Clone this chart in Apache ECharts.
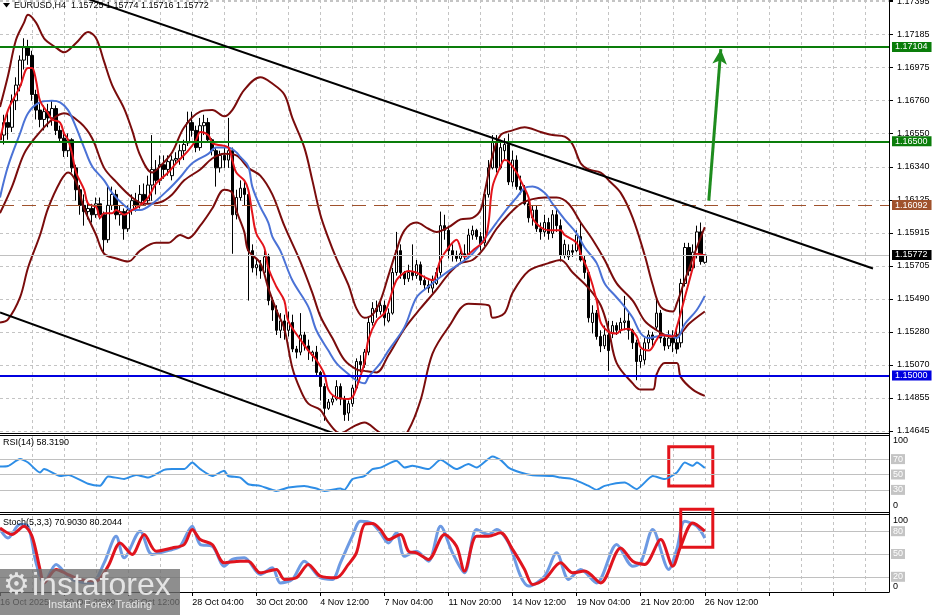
<!DOCTYPE html>
<html><head><meta charset="utf-8">
<script src="https://cdn.jsdelivr.net/npm/echarts@6.0.0/dist/echarts.min.js"></script>
<style>html,body{margin:0;padding:0;background:#fff}#c{width:937px;height:615px}</style>
</head><body><div id="c"></div>
<script>
// ---------- data ----------
const timeLabels = ['16 Oct 2025','20 Oct 20:00','23 Oct 12:00','28 Oct 04:00','30 Oct 20:00','4 Nov 12:00','7 Nov 04:00','11 Nov 20:00','14 Nov 12:00','19 Nov 04:00','21 Nov 20:00','26 Nov 12:00'];
const priceTicks = ['1.14645','1.14855','1.15070','1.15280','1.15490','1.15705','1.15915','1.16125','1.16340','1.16550','1.16760','1.16975','1.17185','1.17395'];

const opens = [
1.1651,1.1654,1.1662,1.1659,1.1676,1.1686,1.1702,1.1710,1.1705,1.1680,
1.1670,1.1664,1.1669,1.1665,1.1671,1.1657,1.1652,1.1644,1.1651,1.1633,
1.1619,1.1609,1.1605,1.1607,1.1603,1.1610,1.1603,1.1587,1.1609,1.1616,
1.1603,1.1605,1.1594,1.1606,1.1612,1.1609,1.1616,1.1612,1.1622,1.1632,
1.1625,1.1635,1.1632,1.1628,1.1638,1.1639,1.1644,1.1649,1.1662,1.1657,
1.1646,1.1660,1.1662,1.1651,1.1644,1.1633,1.1641,1.1638,1.1644,1.1603,
1.1614,1.1620,1.1616,1.1580,1.1569,1.1571,1.1566,1.1576,1.1548,1.1542,
1.1529,1.1535,1.1529,1.1534,1.1517,1.1515,1.1526,1.1519,1.1513,1.1515,
1.1502,1.1493,1.1479,1.1483,1.1485,1.1493,1.1485,1.1476,1.1482,1.1492,
1.1509,1.1507,1.1515,1.1534,1.1543,1.1541,1.1545,1.1535,1.1540,1.1566,
1.1580,1.1566,1.1562,1.1566,1.1564,1.1571,1.1561,1.1558,1.1556,1.1559,
1.1566,1.1596,1.1593,1.1580,1.1577,1.1575,1.1578,1.1577,1.1590,1.1593,
1.1589,1.1585,1.1616,1.1633,1.1650,1.1633,1.1644,1.1648,1.1624,1.1638,
1.1621,1.1619,1.1610,1.1601,1.1606,1.1594,1.1592,1.1598,1.1591,1.1603,
1.1596,1.1577,1.1576,1.1580,1.1580,1.1589,1.1574,1.1566,1.1534,1.1540,
1.1525,1.1519,1.1526,1.1527,1.1532,1.1529,1.1534,1.1535,1.1529,1.1521,
1.1509,1.1510,1.1521,1.1526,1.1531,1.1540,1.1524,1.1519,1.1524,1.1521,
1.1521,1.1559,1.1582,1.1569,1.1577,1.1592,1.15725];
const closes = [
1.1654,1.1662,1.1659,1.1676,1.1686,1.1702,1.1710,1.1705,1.1680,1.1670,
1.1664,1.1669,1.1665,1.1671,1.1657,1.1652,1.1644,1.1651,1.1633,1.1619,
1.1609,1.1605,1.1607,1.1603,1.1610,1.1603,1.1587,1.1609,1.1616,1.1603,
1.1605,1.1594,1.1606,1.1612,1.1609,1.1616,1.1612,1.1622,1.1632,1.1625,
1.1635,1.1632,1.1637,1.1638,1.1639,1.1644,1.1648,1.1662,1.1657,1.1646,
1.1660,1.1662,1.1651,1.1644,1.1633,1.1641,1.1638,1.1644,1.1603,1.1614,
1.1620,1.1616,1.1580,1.1569,1.1571,1.1567,1.1576,1.1548,1.1542,1.1529,
1.1535,1.1529,1.1534,1.1517,1.1515,1.1526,1.1519,1.1516,1.1515,1.1502,
1.1493,1.1479,1.1483,1.1485,1.1493,1.1485,1.1475,1.1482,1.1492,1.1509,
1.1507,1.1515,1.1534,1.1543,1.1541,1.1545,1.1537,1.1540,1.1566,1.1580,
1.1566,1.1562,1.1566,1.1564,1.1571,1.1561,1.1558,1.1556,1.1561,1.1566,
1.1596,1.1593,1.1580,1.1577,1.1575,1.1578,1.1577,1.1590,1.1593,1.1589,
1.1584,1.1616,1.1633,1.1650,1.1633,1.1646,1.1648,1.1624,1.1638,1.1621,
1.1619,1.1610,1.1601,1.1606,1.1594,1.1592,1.1598,1.1591,1.1603,1.1596,
1.1577,1.1584,1.1580,1.1579,1.1590,1.1574,1.1566,1.1537,1.1540,1.1525,
1.1519,1.1526,1.1516,1.1532,1.1529,1.1534,1.1535,1.1529,1.1521,1.1509,
1.1513,1.1521,1.1526,1.1523,1.1540,1.1524,1.1519,1.1524,1.1521,1.1517,
1.1559,1.1582,1.1567,1.1579,1.1592,1.1573,1.15772];
const highs = [
1.1660,1.1667,1.1669,1.1680,1.1691,1.1705,1.1716,1.1715,1.1708,1.1683,
1.1675,1.1673,1.1674,1.1676,1.1673,1.1660,1.1656,1.1655,1.1652,1.1635,
1.1622,1.1616,1.1612,1.1610,1.1614,1.1614,1.1605,1.1621,1.1621,1.1619,
1.1609,1.1607,1.1609,1.1616,1.1617,1.1622,1.1623,1.1628,1.1654,1.1638,
1.1641,1.1641,1.1641,1.1641,1.1643,1.1648,1.1651,1.1669,1.1669,1.1660,
1.1665,1.1667,1.1665,1.1652,1.1646,1.1644,1.1646,1.1665,1.1646,1.1619,
1.1625,1.1624,1.1619,1.1584,1.1575,1.1574,1.1580,1.1578,1.1550,1.1545,
1.1540,1.1539,1.1541,1.1539,1.1519,1.1540,1.1528,1.1523,1.1516,1.1519,
1.1503,1.1495,1.1485,1.1488,1.1497,1.1495,1.1487,1.1484,1.1494,1.1511,
1.1513,1.1517,1.1537,1.1547,1.1548,1.1548,1.1548,1.1543,1.1569,1.1592,
1.1584,1.1567,1.1571,1.1584,1.1574,1.1573,1.1564,1.1561,1.1564,1.1569,
1.1605,1.1603,1.1596,1.1584,1.1580,1.1582,1.1584,1.1594,1.1596,1.1594,
1.1592,1.1619,1.1638,1.1654,1.1654,1.1651,1.1652,1.1655,1.1644,1.1641,
1.1628,1.1622,1.1612,1.1609,1.1609,1.1598,1.1603,1.1601,1.1606,1.1606,
1.1600,1.1587,1.1584,1.1584,1.1593,1.1598,1.1577,1.1567,1.1545,1.1542,
1.1529,1.1532,1.1535,1.1535,1.1534,1.1537,1.1551,1.1541,1.1530,1.1523,
1.1517,1.1524,1.1529,1.1528,1.1550,1.1542,1.1526,1.1529,1.1529,1.1529,
1.1562,1.1585,1.1585,1.1584,1.1596,1.1598,1.15774];
const lows = [
1.1644,1.1648,1.1651,1.1656,1.1670,1.1682,1.1696,1.1699,1.1676,1.1664,
1.1659,1.1657,1.1659,1.1660,1.1654,1.1650,1.1640,1.1640,1.1630,1.1612,
1.1603,1.1596,1.1600,1.1598,1.1601,1.1600,1.1578,1.1585,1.1606,1.1600,
1.1596,1.1587,1.1592,1.1603,1.1605,1.1607,1.1609,1.1610,1.1612,1.1616,
1.1622,1.1626,1.1628,1.1625,1.1635,1.1635,1.1638,1.1647,1.1653,1.1643,
1.1644,1.1654,1.1650,1.1641,1.1621,1.1630,1.1633,1.1633,1.1578,1.1600,
1.1612,1.1609,1.1548,1.1566,1.1564,1.1562,1.1564,1.1545,1.1535,1.1526,
1.1524,1.1523,1.1525,1.1515,1.1511,1.1513,1.1516,1.1510,1.1509,1.1500,
1.1484,1.1471,1.1478,1.1481,1.1484,1.1481,1.1471,1.1471,1.1480,1.1491,
1.1502,1.1505,1.1513,1.1532,1.1537,1.1539,1.1532,1.1534,1.1539,1.1564,
1.1562,1.1558,1.1560,1.1561,1.1562,1.1558,1.1555,1.1553,1.1553,1.1558,
1.1564,1.1587,1.1575,1.1573,1.1573,1.1573,1.1573,1.1575,1.1587,1.1587,
1.1580,1.1583,1.1614,1.1632,1.1630,1.1632,1.1638,1.1622,1.1621,1.1619,
1.1616,1.1609,1.1598,1.1596,1.1592,1.1587,1.1589,1.1587,1.1588,1.1592,
1.1573,1.1575,1.1574,1.1576,1.1579,1.1573,1.1562,1.1534,1.1527,1.1523,
1.1515,1.1517,1.1503,1.1524,1.1526,1.1527,1.1529,1.1523,1.1517,1.1497,
1.1505,1.1507,1.1517,1.1519,1.1529,1.1521,1.1516,1.1517,1.1515,1.1514,
1.1518,1.1557,1.1564,1.1567,1.1575,1.1571,1.15716];

const bbUpper = [[0,1.1672],[2,1.1692],[4,1.1715],[6,1.1726],[7,1.1731],[9,1.1726],[11,1.1716],[14,1.1710],[16,1.1707],[19,1.1713],[22,1.1720],[24,1.1716],[26,1.1701],[28,1.1686],[31,1.1671],[33,1.1657],[35,1.1641],[38,1.1630],[40,1.1634],[43,1.1643],[46,1.1659],[50,1.1669],[53,1.1670],[56,1.1666],[58,1.1670],[61,1.1683],[65,1.1691],[68,1.1687],[71,1.1680],[73,1.1665],[76,1.1646],[78,1.1625],[80,1.1603],[82,1.1588],[84,1.1575],[87,1.1558],[89,1.1543],[91,1.1537],[93,1.1539],[95,1.1548],[97,1.1564],[99,1.1580],[101,1.1593],[104,1.1598],[107,1.1594],[109,1.1592],[112,1.1595],[115,1.1600],[118,1.1601],[120,1.1606],[121,1.1617],[123,1.1641],[125,1.1654],[128,1.1657],[131,1.1659],[135,1.1656],[138,1.1654],[141,1.1653],[143,1.1648],[145,1.1636],[147,1.1632],[150,1.1630],[152,1.1625],[155,1.1617],[158,1.1601],[161,1.1577],[163,1.1558],[165,1.1544],[168,1.1541],[169,1.1546],[171,1.1561],[174,1.1582],[176,1.1595]];
const bbMiddle = [[0,1.1604],[3,1.1621],[6,1.1642],[9,1.1653],[13,1.1664],[16,1.1668],[20,1.1662],[23,1.1652],[26,1.1633],[29,1.1624],[33,1.1614],[36,1.1610],[40,1.1611],[43,1.1616],[46,1.1625],[50,1.1632],[53,1.1639],[56,1.1642],[59,1.1641],[62,1.1633],[65,1.1628],[68,1.1616],[71,1.1596],[75,1.1573],[78,1.1553],[80,1.1538],[83,1.1524],[86,1.1510],[89,1.1504],[91,1.1503],[94,1.1502],[97,1.1513],[101,1.1530],[105,1.1543],[109,1.1555],[112,1.1565],[115,1.1572],[118,1.1574],[121,1.1582],[124,1.1594],[127,1.1603],[130,1.1610],[133,1.1613],[136,1.1614],[139,1.1614],[142,1.1610],[145,1.1598],[148,1.1587],[151,1.1574],[154,1.1559],[158,1.1548],[161,1.1535],[164,1.1529],[166,1.1526],[168,1.1525],[170,1.1527],[172,1.1533],[176,1.1541]];
const bbLower = [[0,1.1534],[2,1.1536],[5,1.1550],[7,1.1569],[10,1.1590],[12,1.1607],[15,1.1624],[17,1.1630],[19,1.1624],[21,1.1607],[24,1.1590],[26,1.1578],[29,1.1575],[32,1.1573],[35,1.1580],[39,1.1585],[42,1.1585],[45,1.1590],[47,1.1588],[50,1.1596],[53,1.1607],[56,1.1619],[58,1.1617],[59,1.1606],[61,1.1592],[62,1.1580],[65,1.1572],[67,1.1556],[69,1.1542],[71,1.1530],[73,1.1505],[75,1.1491],[77,1.1482],[80,1.1478],[82,1.1470],[85,1.1463],[88,1.1467],[91,1.1470],[94,1.1465],[97,1.1459],[99,1.1457],[102,1.1465],[105,1.1484],[108,1.1514],[112,1.1531],[117,1.1546],[122,1.1545],[123,1.1537],[126,1.1540],[128,1.1553],[132,1.1567],[137,1.1572],[140,1.1574],[143,1.1566],[147,1.1556],[150,1.1545],[152,1.1529],[154,1.1508],[158,1.1495],[160,1.1491],[163,1.1491],[164,1.1501],[166,1.1508],[169,1.1508],[170,1.1499],[173,1.1491],[176,1.1487]];
const maFast = [[0,1.1651],[2,1.1670],[5,1.1685],[7,1.1697],[8,1.1697],[9,1.1689],[10,1.1676],[12,1.1668],[13,1.1664],[15,1.1662],[16,1.1655],[17,1.1651],[18,1.1642],[19,1.1630],[21,1.1619],[22,1.1610],[24,1.1608],[25,1.1601],[26,1.1604],[28,1.1604],[29,1.1606],[31,1.1603],[33,1.1606],[35,1.1609],[37,1.1614],[39,1.1623],[42,1.1630],[44,1.1636],[47,1.1644],[49,1.1651],[50,1.1656],[52,1.1654],[53,1.1649],[54,1.1648],[57,1.1646],[58,1.1638],[59,1.1630],[61,1.1625],[62,1.1619],[63,1.1604],[64,1.1591],[66,1.1582],[67,1.1569],[69,1.1557],[71,1.1548],[72,1.1535],[75,1.1523],[77,1.1516],[79,1.1510],[81,1.1501],[82,1.1491],[84,1.1486],[87,1.1485],[88,1.1486],[89,1.1492],[91,1.1508],[92,1.1523],[94,1.1535],[96,1.1540],[97,1.1546],[99,1.1561],[101,1.1566],[102,1.1567],[104,1.1566],[106,1.1563],[108,1.1561],[110,1.1574],[112,1.1582],[114,1.1587],[116,1.1576],[118,1.1580],[121,1.1587],[122,1.1598],[123,1.1621],[125,1.1634],[126,1.1638],[127,1.1637],[129,1.1630],[130,1.1625],[132,1.1614],[133,1.1601],[135,1.1595],[137,1.1593],[140,1.1593],[141,1.1590],[144,1.1585],[145,1.1578],[147,1.1566],[149,1.1548],[150,1.1534],[152,1.1528],[154,1.1527],[155,1.1529],[157,1.1530],[159,1.1525],[160,1.1518],[162,1.1516],[164,1.1523],[165,1.1526],[168,1.1525],[169,1.1531],[171,1.1550],[173,1.1569],[174,1.1578],[176,1.1577]];
const maSlow = [[0,1.1614],[2,1.1634],[5,1.1655],[7,1.1668],[10,1.1675],[13,1.1676],[15,1.1675],[17,1.1670],[19,1.1659],[21,1.1646],[23,1.1634],[26,1.1625],[28,1.1617],[31,1.1609],[33,1.1606],[35,1.1606],[38,1.1610],[42,1.1619],[45,1.1627],[48,1.1636],[52,1.1642],[54,1.1646],[57,1.1646],[59,1.1643],[60,1.1640],[62,1.1634],[63,1.1621],[65,1.1608],[67,1.1598],[68,1.1589],[70,1.1580],[73,1.1561],[77,1.1544],[79,1.1529],[82,1.1516],[84,1.1508],[87,1.1501],[89,1.1497],[91,1.1495],[92,1.1499],[95,1.1508],[97,1.1516],[101,1.1531],[104,1.1550],[107,1.1557],[111,1.1565],[115,1.1572],[118,1.1578],[122,1.1591],[124,1.1598],[127,1.1608],[129,1.1614],[131,1.1620],[133,1.1621],[136,1.1617],[138,1.1610],[141,1.1600],[144,1.1591],[146,1.1582],[149,1.1572],[151,1.1559],[154,1.1550],[156,1.1544],[158,1.1537],[160,1.1527],[162,1.1524],[164,1.1525],[167,1.1526],[169,1.1524],[171,1.1533],[174,1.1542],[176,1.1551]];
const rsi = [[0,60.4],[2,61],[5,70],[7,65.6],[10,52.5],[11,57],[15,48],[17,49.5],[22,38],[25,35.5],[27,47.4],[31,44.3],[34,49.5],[37,46],[41,56],[43,57],[46,57],[48,65.6],[50,57],[53,48],[56,54.8],[57,48],[60,46],[62,37.4],[65,35.2],[69,28.7],[72,33],[76,35.2],[79,31.7],[81,28.7],[85,31.7],[86,30],[88,44],[91,48],[93,57],[95,59],[99,67.8],[101,59],[103,61.3],[107,57],[110,69],[114,57],[117,63.5],[119,59],[123,73.4],[125,69],[127,59],[130,52.5],[133,49],[138,48],[140,46],[143,44],[147,35.2],[149,30],[151,35.2],[156,39.5],[159,31],[163,48],[166,44],[169,52.5],[171,65.6],[173,61.3],[174,65.6],[176,58.319]];
const stochK = [[0,82.6],[2,71],[5,89],[7,86.6],[9,38.4],[11,12],[14,36.3],[17,20.9],[19,14.4],[23,12],[26,38.4],[29,73.4],[31,45],[35,80],[38,49.4],[43,56],[45,60.3],[48,86.6],[50,62.5],[53,60.3],[56,34],[58,42.8],[61,45],[65,23],[68,31.8],[70,12],[73,16.6],[76,40.6],[80,18.7],[83,16.6],[85,38.4],[88,73.4],[90,93],[93,90],[95,77.8],[97,64.6],[99,77.8],[101,47],[104,53.7],[107,40.6],[110,86.6],[113,51.5],[116,25.3],[119,82.2],[122,75.7],[124,82.2],[127,64.6],[130,20.9],[132,7.8],[136,20.9],[139,51.5],[142,16.6],[145,29.7],[149,12],[154,62.5],[158,34],[160,38.4],[163,82.2],[167,29.7],[169,56],[171,93],[174,86.6],[176,70.903]];
const stochD = [[0,84.3],[3,75.7],[6,86.6],[8,73.4],[10,29.7],[11,12],[14,29.7],[17,23],[20,16.6],[24,14.4],[27,34],[30,64.6],[33,49.4],[36,75.7],[39,53.7],[43,58],[46,62.5],[48,82.2],[50,69],[53,62.5],[56,38.4],[60,40.6],[62,40.6],[65,25.3],[69,29.7],[71,16.6],[74,18.7],[77,36.3],[80,20.9],[84,18.7],[87,36.3],[89,51.5],[91,88.8],[93,90.1],[95,82.2],[97,69],[100,75.7],[102,53.7],[104,51.5],[107,42.8],[111,75.7],[114,60.3],[116,27.5],[119,73.4],[122,73.4],[125,77.8],[128,56],[131,29.7],[133,10],[136,16.6],[140,38.4],[143,25.3],[146,27.5],[150,12],[155,58],[158,40.6],[161,36.3],[165,69],[168,34],[170,60.3],[173,90.9],[176,80.2044]];

const trendUpper = [[10,1.17517],[218,1.15686]];
const trendLower = [[0,1.15404],[95,1.14522]];
const arrowFrom = [177,1.1612], arrowTo = [180,1.1709];
const hLevels = [
  {v:1.17104, c:'#0a7d0a', w:2, t:'solid'},
  {v:1.16500, c:'#0a7d0a', w:2, t:'solid'},
  {v:1.16092, c:'#a0522d', w:1, t:[14,8]},
  {v:1.15772, c:'#c0c0c0', w:1, t:'solid', bg:'#000'},
  {v:1.15000, c:'#0000e0', w:2, t:'solid'}
];
const rsiLevels = [70,50,30];
const stochLevels = [80,50,20];
const rsiBox = [[167,86],[178,35]];
const stochBox = [[170,109],[178,59]];

// ---------- chart ----------
const FONT = 'Liberation Sans, Arial, sans-serif';
const SLOTS = 223;
const cats = Array.from({length: SLOTS}, (_, i) => String(i));
const Y_STEP = 1.14645 / 542;
const Y_MIN = 1.14645 - 1e-9;
const Y_MAX = 1.17405;
const gridDash = {color:'#c4c4c4', type:[3,3], width:1};
const vSplit = i => i > 0 && i % 8 === 0;

function xAx(gi, last){
  return {type:'category', gridIndex:gi, data:cats, boundaryGap:false,
    axisLine:{show:!!last, lineStyle:{color:'#000'}},
    axisTick:{show:!!last, interval:i=>i%16===0, length:4, lineStyle:{color:'#000'}},
    axisLabel:{show:!!last, interval:i=>i%16===0, formatter:(v,i)=>timeLabels[i/16]||'', align:'left', fontSize:9, color:'#000', fontFamily:FONT, margin:6},
    splitLine:{show:true, interval:vSplit, lineStyle:gridDash}};
}
function lineS(data, color, width, ai, z, extra){
  return Object.assign({type:'line', xAxisIndex:ai, yAxisIndex:ai, data, symbol:'none', smooth:0.35,
    lineStyle:{color, width}, z, silent:true, animation:false}, extra||{});
}
function levelMarks(levels){
  return {silent:true, symbol:['none','none'], animation:false,
    lineStyle:{color:'#c0c0c0', width:1, type:'solid'},
    label:{show:true, position:'end', formatter:'{c}', color:'#fff', backgroundColor:'#c4c4c4', fontSize:9, fontFamily:FONT, padding:[1,2,0,2], distance:2},
    data: levels.map(v=>({yAxis:v}))};
}

const option = {
  animation:false,
  backgroundColor:'#fff',
  grid:[
    {left:0, top:0, width:889, height:431, containLabel:false, outerBoundsMode:'none'},
    {left:0, top:436, width:889, height:77, containLabel:false, outerBoundsMode:'none'},
    {left:0, top:516, width:889, height:76, containLabel:false, outerBoundsMode:'none'}
  ],
  xAxis:[xAx(0,false), xAx(1,false), xAx(2,true)],
  yAxis:[
    {type:'value', gridIndex:0, position:'right', min:Y_MIN, max:Y_MAX, interval:Y_STEP, scale:true,
     axisLine:{show:true, lineStyle:{color:'#000'}},
     axisTick:{show:true, length:4, lineStyle:{color:'#000'}},
     axisLabel:{fontSize:9, color:'#000', fontFamily:FONT, margin:8, hideOverlap:false,
       formatter:v=>{const n=(v-1.14645)/Y_STEP; const r=Math.round(n); return (Math.abs(n-r)<0.02 && priceTicks[r]) ? priceTicks[r] : '';}},
     splitLine:{show:true, lineStyle:gridDash}},
    {type:'value', gridIndex:1, position:'right', min:0, max:100, interval:100,
     axisLine:{show:true, lineStyle:{color:'#000'}}, axisTick:{show:false}, splitLine:{show:false},
     axisLabel:{fontSize:9, color:'#000', fontFamily:FONT, margin:4,
       formatter:v=> v===100 ? '{t|100}' : '{b|0}',
       rich:{t:{fontSize:9, fontFamily:FONT, padding:[10,0,0,0]}, b:{fontSize:9, fontFamily:FONT, padding:[0,0,14,0]}}}},
    {type:'value', gridIndex:2, position:'right', min:0, max:100, interval:100,
     axisLine:{show:true, lineStyle:{color:'#000'}}, axisTick:{show:false}, splitLine:{show:false},
     axisLabel:{fontSize:9, color:'#000', fontFamily:FONT, margin:4,
       formatter:v=> v===100 ? '{t|100}' : '{b|0}',
       rich:{t:{fontSize:9, fontFamily:FONT, padding:[10,0,0,0]}, b:{fontSize:9, fontFamily:FONT, padding:[0,0,10,0]}}}}
  ],
  series:[
    {type:'candlestick', xAxisIndex:0, yAxisIndex:0, barWidth:3, z:2, silent:true, animation:false,
     data: opens.map((o,i)=>[o, closes[i], lows[i], highs[i]]),
     itemStyle:{color:'#fff', color0:'#000', borderColor:'#000', borderColor0:'#000', borderWidth:1},
     markLine:{silent:true, symbol:['none','none'], animation:false, precision:5,
       data: hLevels.map(h=>({yAxis:h.v, lineStyle:{color:h.c, width:h.w, type:h.t},
         label:{show:true, position:'end', formatter:h.v.toFixed(5), color:'#fff', backgroundColor:h.bg||h.c,
           fontSize:9, fontFamily:FONT, padding:[1,4,0,3], distance:3}}))}},
    lineS(bbUpper, '#7a0c0c', 2, 0, 3),
    lineS(bbMiddle, '#7a0c0c', 2, 0, 3),
    lineS(bbLower, '#7a0c0c', 2, 0, 3),
    lineS(maSlow, '#4b72d6', 2, 0, 4),
    lineS(maFast, '#e3141b', 2, 0, 4),
    lineS(trendUpper, '#000', 2, 0, 5, {smooth:false,
      markLine:{silent:true, animation:false, symbol:['none','arrow'], symbolSize:[11,15],
        lineStyle:{color:'#1e8c1e', width:3, type:'solid'}, label:{show:false},
        data:[[{coord:arrowFrom},{coord:arrowTo}]]}}),
    lineS(trendLower, '#000', 2, 0, 5, {smooth:false}),
    lineS(rsi, '#2d8de6', 2, 1, 4, {smooth:0.2, markLine:levelMarks(rsiLevels),
      markArea:{silent:true, itemStyle:{color:'rgba(0,0,0,0)', borderColor:'#e3141b', borderWidth:3},
        data:[[{coord:rsiBox[0]},{coord:rsiBox[1]}]]}}),
    lineS(stochK, '#6d9ae3', 3, 2, 4, {smooth:0.3, markLine:levelMarks(stochLevels)}),
    lineS(stochD, '#e0141e', 3, 2, 5, {smooth:0.3})
  ]
};

const chart = echarts.init(document.getElementById('c'), null, {renderer:'canvas', width:937, height:615});
chart.setOption(option);

const p1 = chart.convertToPixel({xAxisIndex:2, yAxisIndex:2}, stochBox[0]);
const p2 = chart.convertToPixel({xAxisIndex:2, yAxisIndex:2}, stochBox[1]);

chart.setOption({graphic:[
  {id:'tri', type:'polygon', shape:{points:[[3,3],[10,3],[6.5,7.5]]}, style:{fill:'#000'}, z:50},
  {id:'hdr', type:'text', left:14, top:1, style:{text:'EURUSD,H4  1.15725 1.15774 1.15716 1.15772', fill:'#000', font:'9px '+FONT}, z:50},
  {id:'rsiT', type:'text', left:3, top:438, style:{text:'RSI(14) 58.3190', fill:'#000', font:'9px '+FONT}, z:50},
  {id:'stT', type:'text', left:3, top:518, style:{text:'Stoch(5,3,3) 70.9030 80.2044', fill:'#000', font:'9px '+FONT}, z:50},
  {id:'s1', type:'line', shape:{x1:0,y1:433.5,x2:890,y2:433.5}, style:{stroke:'#000', lineWidth:1}, z:40},
  {id:'s2', type:'line', shape:{x1:0,y1:435.5,x2:890,y2:435.5}, style:{stroke:'#000', lineWidth:1}, z:40},
  {id:'s3', type:'line', shape:{x1:0,y1:512.5,x2:890,y2:512.5}, style:{stroke:'#000', lineWidth:1}, z:40},
  {id:'s4', type:'line', shape:{x1:0,y1:514.5,x2:890,y2:514.5}, style:{stroke:'#000', lineWidth:1}, z:40},
  {id:'vax', type:'line', shape:{x1:889.5,y1:0,x2:889.5,y2:592}, style:{stroke:'#000', lineWidth:1}, z:40},
  {id:'stBox', type:'rect', shape:{x:p1[0], y:p1[1], width:p2[0]-p1[0], height:p2[1]-p1[1]}, style:{fill:'none', stroke:'#e3141b', lineWidth:3}, z:60},
  {id:'logoBg', type:'rect', shape:{x:0,y:569,width:180,height:46}, style:{fill:'rgba(110,110,110,0.78)'}, z:70},
  {id:'logoGear', type:'text', x:3, y:571, style:{text:'\u2699', fill:'#e4e4e4', font:'30px DejaVu Sans'}, z:71},
  {id:'logoTxt', type:'text', x:32, y:586, style:{text:'instaforex', fill:'#e4e4e4', font:'32px '+FONT, verticalAlign:'middle'}, z:71},
  {id:'logoSub', type:'text', x:48, y:605, style:{text:'Instant Forex Trading', fill:'#e4e4e4', font:'11px '+FONT, verticalAlign:'middle'}, z:71}
]});
</script>
</body></html>
